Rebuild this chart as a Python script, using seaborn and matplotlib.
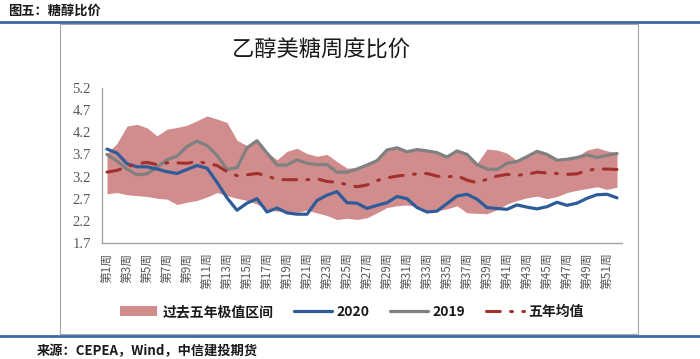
import numpy as np
import pandas as pd
import matplotlib
matplotlib.use("Agg")
import matplotlib.pyplot as plt
import seaborn as sns
from matplotlib.patches import Patch, Rectangle
from matplotlib.lines import Line2D

# ---------------- data ----------------
weeks = list(range(1, 53))
tick_weeks = list(range(1, 52, 2))
tick_labels = [f"第{w}周" for w in tick_weeks]
y_ticks = [1.7, 2.2, 2.7, 3.2, 3.7, 4.2, 4.7, 5.2]

v2020 = [3.82, 3.73, 3.49, 3.42, 3.42, 3.37, 3.31, 3.27, 3.36, 3.45,
         3.39, 3.07, 2.72, 2.44, 2.60, 2.70, 2.40, 2.49, 2.38, 2.35,
         2.35, 2.66, 2.78, 2.86, 2.61, 2.60, 2.48, 2.55, 2.61, 2.75,
         2.70, 2.50, 2.40, 2.42, 2.59, 2.76, 2.80, 2.69, 2.50, 2.48,
         2.46, 2.56, 2.51, 2.47, 2.52, 2.62, 2.55, 2.60, 2.71, 2.79,
         2.80, 2.72]

v2019 = [3.70, 3.55, 3.37, 3.24, 3.26, 3.41, 3.58, 3.66, 3.88, 4.00,
         3.90, 3.68, 3.36, 3.40, 3.85, 4.01, 3.73, 3.46, 3.46, 3.58,
         3.50, 3.47, 3.47, 3.30, 3.30, 3.37, 3.46, 3.56, 3.80, 3.85,
         3.76, 3.81, 3.78, 3.74, 3.64, 3.78, 3.70, 3.47, 3.37, 3.36,
         3.50, 3.54, 3.65, 3.77, 3.70, 3.57, 3.59, 3.63, 3.69, 3.63,
         3.68, 3.72]

mean5 = [3.30, 3.34, 3.42, 3.49, 3.52, 3.47, 3.51, 3.51, 3.50, 3.54,
         3.50, 3.45, 3.31, 3.22, 3.24, 3.27, 3.22, 3.13, 3.13, 3.13,
         3.13, 3.15, 3.09, 3.07, 3.02, 2.97, 3.01, 3.11, 3.17, 3.21,
         3.24, 3.26, 3.27, 3.21, 3.19, 3.22, 3.12, 3.06, 3.14, 3.21,
         3.25, 3.23, 3.25, 3.30, 3.28, 3.27, 3.25, 3.26, 3.34, 3.37,
         3.37, 3.36]

band_hi = [3.72, 3.95, 4.34, 4.38, 4.30, 4.12, 4.27, 4.31, 4.36, 4.46,
           4.57, 4.50, 4.42, 4.02, 3.90, 4.02, 3.75, 3.58, 3.77, 3.84,
           3.72, 3.66, 3.70, 3.54, 3.39, 3.40, 3.48, 3.58, 3.81, 3.86,
           3.78, 3.82, 3.79, 3.75, 3.65, 3.79, 3.72, 3.50, 3.82, 3.80,
           3.73, 3.56, 3.66, 3.78, 3.71, 3.59, 3.61, 3.65, 3.80, 3.85,
           3.78, 3.74]

band_lo = [2.81, 2.84, 2.79, 2.77, 2.75, 2.71, 2.69, 2.57, 2.62, 2.66,
           2.74, 2.84, 2.77, 2.71, 2.66, 2.58, 2.46, 2.42, 2.40, 2.39,
           2.44, 2.38, 2.32, 2.23, 2.26, 2.23, 2.27, 2.38, 2.50, 2.54,
           2.56, 2.52, 2.44, 2.43, 2.47, 2.54, 2.38, 2.37, 2.36, 2.45,
           2.58, 2.66, 2.72, 2.76, 2.70, 2.75, 2.84, 2.89, 2.93, 2.97,
           2.91, 2.96]

# ---------------- style ----------------
sns.set_theme(style="white")
plt.rcParams["font.family"] = ["Noto Sans CJK SC", "DejaVu Sans"]

C_BAND = "#D18D8D"
C_2020 = "#2E5C99"
C_2019 = "#808080"
C_MEAN = "#A3302D"
MEAN_DASH = (0, (4.5, 3.4, 0.6, 3.4))

df = pd.DataFrame({"week": weeks, "2020": v2020, "2019": v2019,
                   "mean": mean5, "hi": band_hi, "lo": band_lo})

fig = plt.figure(figsize=(7.0, 3.59), dpi=100)
ax = fig.add_axes([102 / 700, 1 - 243 / 359, 520 / 700, 155 / 359])

ax.fill_between(df["week"], df["lo"], df["hi"], color=C_BAND, lw=0, zorder=1)
sns.lineplot(data=df, x="week", y="2020", ax=ax, color=C_2020, lw=2.3, zorder=3)
sns.lineplot(data=df, x="week", y="2019", ax=ax, color=C_2019, lw=2.3, zorder=2)
sns.lineplot(data=df, x="week", y="mean", ax=ax, color=C_MEAN, lw=2.2, zorder=4)
ax.lines[-1].set_linestyle(MEAN_DASH)
ax.lines[-1].set_dash_capstyle("round")

ax.set_xlim(0.5, 52.5)
ax.set_ylim(1.7, 5.2)
ax.set_yticks(y_ticks)
ax.set_yticklabels([f"{v:.1f}" for v in y_ticks], family="Liberation Serif",
                   fontsize=10.5, color="#595959")
ax.set_xticks(tick_weeks)
ax.set_xticklabels(tick_labels, rotation=90, fontsize=8.5, color="#595959",
                   family=["Noto Sans CJK SC", "DejaVu Sans"])
ax.tick_params(axis="both", length=0)
ax.tick_params(axis="y", pad=8)
ax.tick_params(axis="x", pad=7)
ax.set_xlabel("")
ax.set_ylabel("")
for s in ["top", "right"]:
    ax.spines[s].set_visible(False)
for s in ["left", "bottom"]:
    ax.spines[s].set_color("#A6A6A6")
    ax.spines[s].set_linewidth(1.0)
ax.grid(False)

# chart frame
fig.patches.append(Rectangle((60 / 700, 1 - 334 / 359), 578 / 700, 310 / 359,
                             transform=fig.transFigure, fill=False,
                             edgecolor="#A6A6A6", lw=0.8, zorder=0))
# header / footer rules
fig.add_artist(Line2D([0, 1], [1 - 21.5 / 359] * 2, transform=fig.transFigure,
                      color="#3B67A3", lw=2.0))
fig.add_artist(Line2D([0, 1], [1 - 336 / 359] * 2, transform=fig.transFigure,
                      color="#3B67A3", lw=2.0))

fig.text(8 / 700, 1 - 11 / 359, "图五：糖醇比价", fontsize=9.5, weight="bold",
         ha="left", va="center", color="#1a1a1a")
fig.text(321 / 700, 1 - 50 / 359, "乙醇美糖周度比价", fontsize=16,
         ha="center", va="center", color="#1a1a1a")
fig.text(37 / 700, 1 - 351 / 359, "来源：CEPEA，Wind，中信建投期货", fontsize=9.5,
         weight="bold", ha="left", va="center", color="#1a1a1a")

handles = [Patch(facecolor=C_BAND, edgecolor="none"),
           Line2D([], [], color=C_2020, lw=2.3),
           Line2D([], [], color=C_2019, lw=2.3),
           Line2D([], [], color=C_MEAN, lw=2.2, ls=MEAN_DASH,
                  dash_capstyle="round")]
labels = ["过去五年极值区间", "2020", "2019", "五年均值"]
leg = fig.legend(handles, labels, loc="center", ncol=4,
                 bbox_to_anchor=(352 / 700, 1 - 312 / 359), frameon=False,
                 fontsize=10, handlelength=2.7, handleheight=0.7,
                 handletextpad=0.35, columnspacing=1.5)
for t in leg.get_texts():
    t.set_color("#1a1a1a")
    t.set_fontweight("bold")

fig.savefig("out.png", dpi=100)
